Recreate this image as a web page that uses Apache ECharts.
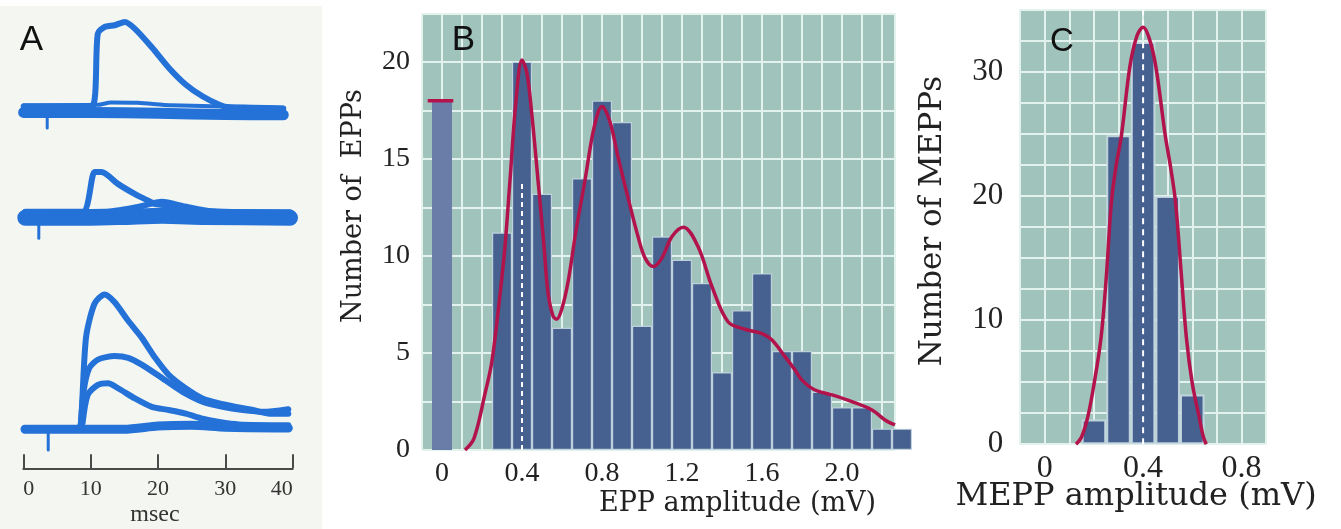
<!DOCTYPE html>
<html><head><meta charset="utf-8">
<script src="https://cdn.jsdelivr.net/npm/echarts@6/dist/echarts.min.js"></script>
<style>html,body{margin:0;padding:0;background:#fff}#c{width:1341px;height:529px}</style>
</head><body><div id="c"></div>
<script>
// ---------- Panel A: recorded traces (time in ms, amplitude in arbitrary units) ----------
const timeTicksA = [0, 10, 20, 30, 40];
const groupBaseA = [89.5, 62.6, 9.75];           // resting level of each trace group
// group 1 (top)
const g1Epp   = [[0.05,0.9],[5,0.9],[10.17,0.9],[11.06,19.1],[12.07,20.75],[13.57,21.2],[15.07,22.0],[16.58,20.3],[19.08,15.7],[21.59,10.6],[24.1,6.4],[26.6,3.45],[29.1,1.35],[30.6,0.7],[34,0.6],[38.6,0.4]];
const g1Rest  = [[0.05,-0.6],[10,-0.6],[20,-0.8],[30,-1.1],[38.6,-1.2]];
const g1Small = [[0.05,1.2],[11,1.3],[13,1.9],[17,1.8],[22,1.2],[38.6,0.6]];
const g1Artifact = [[3.55,0],[3.55,-4.5]];
// group 2 (middle)
const g2Epp   = [[0.3,1.5],[8.8,1.5],[10.6,11.4],[11.6,11.4],[14.1,8.4],[16.6,5.9],[18.6,4.2],[19.6,3.4],[21,3.2],[25,2.0],[30,1.4],[39.6,1.4]];
const g2Rest  = [[0.3,0],[10,0],[15,0.2],[20.6,0.5],[27,0.2],[39.6,0]];
const g2Bump  = [[0.3,1.4],[12,1.5],[17,2.7],[20.6,4.0],[24,2.8],[28,1.6],[39.6,1.2]];
const g2Artifact = [[2.3,0],[2.3,-5.1]];
// group 3 (bottom)
const g3Large = [[0.25,0.3],[8.2,0.3],[8.57,1.8],[9.31,22.9],[10.57,31.35],[12.07,33.7],[13.57,31.75],[15.58,27.1],[17.58,22.9],[19.58,17.85],[21.59,13.6],[24.1,10.25],[26.6,7.7],[29.1,6.45],[31.6,5.6],[34.1,4.8],[36.6,3.9],[39.35,3.9]];
const g3Mid   = [[8.57,1.8],[9.0,10],[9.8,15.3],[11.07,17.4],[13.57,18.3],[15.58,17.85],[17.58,16.15],[20.6,12.8],[23.6,9.4],[26.6,6.9],[29.6,5.6],[32.6,4.8],[35.6,4.35],[39.35,5.0]];
const g3Small = [[8.8,1.5],[9.56,8.6],[11.07,11.1],[12.57,11.5],[14.07,10.25],[16.58,7.7],[19.08,5.6],[21.59,4.8],[24.1,3.9],[26.6,2.65],[29.1,1.8],[32,1.2],[39.35,1.0]];
const g3Rest  = [[0.25,0],[15,0],[20,0.8],[25,1.0],[30,0.5],[39.35,0.3]];
const g3Artifact = [[3.7,0],[3.7,-5.2]];

// ---------- Panel B: EPP amplitude histogram ----------
const eppBinCenters = [0.3,0.4,0.5,0.6,0.7,0.8,0.9,1.0,1.1,1.2,1.3,1.4,1.5,1.6,1.7,1.8,1.9,2.0,2.1,2.2,2.3];
const eppCounts     = [11.2,20,13.2,6.3,14,18,16.9,6.4,11,9.8,8.6,4.0,7.2,9.1,5.1,5.1,3.0,2.2,2.2,1.1,1.1];
const eppFailures   = [0, 18];                    // failures bin (0 mV)
const eppFailurePredicted = [[-0.0715,18],[0.0565,18]];
const eppFit = [[0.115,0],[0.16,0.6],[0.215,2.9],[0.25,4.6],[0.29,8.0],[0.315,10.5],[0.34,13.9],[0.37,18.0],[0.4,20.1],[0.425,19.4],[0.45,17.2],[0.48,13.9],[0.51,10.5],[0.53,8.1],[0.555,6.9],[0.573,6.74],[0.6,7.3],[0.632,8.76],[0.67,11.3],[0.715,13.9],[0.76,16.6],[0.8,17.7],[0.84,16.9],[0.88,15.1],[0.93,13.0],[0.98,11.0],[1.015,9.9],[1.057,9.45],[1.1,9.9],[1.15,11.0],[1.207,11.48],[1.28,10.48],[1.35,8.42],[1.43,6.61],[1.515,6.22],[1.6,6.0],[1.65,5.67],[1.715,4.81],[1.765,4.12],[1.8,3.6],[1.865,3.09],[1.95,2.84],[2.05,2.49],[2.15,2.06],[2.215,1.55],[2.265,1.29]];
const eppMeanLine = [[0.4,0],[0.4,13.75]];
const eppTickValues = [0,0.4,0.8,1.2,1.6,2.0];
const eppTickLabels = ['0','0.4','0.8','1.2','1.6','2.0'];
const eppCountTicks = [0,5,10,15,20];

// ---------- Panel C: MEPP amplitude histogram ----------
const meppBinCenters = [0.2,0.3,0.4,0.5,0.6];
const meppCounts     = [2,24.9,32.4,20,4];
const meppFit = [[0.127,0],[0.15,0.6],[0.175,2.2],[0.2,4.8],[0.229,8.6],[0.25,13.4],[0.271,19.5],[0.29,22.4],[0.312,24.9],[0.346,30.4],[0.375,32.9],[0.4,33.6],[0.425,32.7],[0.452,30.4],[0.49,24.9],[0.512,22.3],[0.532,19.5],[0.555,13.8],[0.576,8.6],[0.6,4.9],[0.628,2.2],[0.645,0.6],[0.657,0]];
const meppMeanLine = [[0.4,0],[0.4,35]];
const meppTickValues = [0,0.4,0.8];
const meppTickLabels = ['0','0.4','0.8'];
const meppCountTicks = [0,10,20,30];

// ---------- styles ----------
const TEAL = '#a0c3bc', GRIDC = '#e4f2ee', BAR = '#46608f', BAR0 = '#6a7da8', RED = '#b3134b', BLUE = '#2472d8';
const SERIF = '"Liberation Serif", serif', SERIF_T = '"DejaVu Serif", serif', SANS = '"Liberation Sans", Arial, sans-serif';

function pick(vals, labels) {
  return v => { const i = vals.findIndex(t => Math.abs(t - v) < 1e-6); return i >= 0 ? labels[i] : ''; };
}
function shift(arr, base) { return arr.map(p => [p[0], p[1] + base]); }
function trace(data, base, w, extra) {
  return Object.assign({ type: 'line', xAxisIndex: 0, yAxisIndex: 0, data: shift(data, base), smooth: 0.25,
    symbol: 'none', silent: true, lineStyle: { color: BLUE, width: w, cap: 'round', join: 'round' }, z: 3 }, extra || {});
}

const chart = echarts.init(document.getElementById('c'), null, { renderer: 'canvas' });
const option = {
  animation: false,
  backgroundColor: '#ffffff',
  grid: [
    { left: 23.3, right: 1341 - 292.7, top: 0, bottom: 529 - 468.3, show: false },
    { left: 422, right: 1341 - 895, top: 13.3, bottom: 529 - 450, show: true, backgroundColor: TEAL, borderWidth: 0 },
    { left: 1020.2, right: 1341 - 1266, top: 9.8, bottom: 529 - 444.2, show: true, backgroundColor: TEAL, borderWidth: 0 }
  ],
  xAxis: [
    { gridIndex: 0, type: 'value', min: 0, max: 40, interval: 10,
      axisLine: { show: true, onZero: false, lineStyle: { color: '#4a4a4a', width: 2 } },
      axisTick: { show: true, inside: true, length: 14, lineStyle: { color: '#4a4a4a', width: 2 } },
      axisLabel: { margin: 10, fontFamily: SERIF, fontSize: 22, color: '#333', alignMinLabel: 'left', alignMaxLabel: 'right',
        formatter: v => timeTicksA.includes(v) ? String(v) : '' },
      splitLine: { show: false } },
    { gridIndex: 1, type: 'value', min: -0.1, max: 2.265, interval: 0.1,
      axisLine: { show: false }, axisTick: { show: false },
      axisLabel: { margin: 10, fontFamily: SERIF, fontSize: 28, color: '#222', formatter: pick(eppTickValues, eppTickLabels), showMaxLabel: false },
      splitLine: { show: true, lineStyle: { color: GRIDC, width: 2 } } },
    { gridIndex: 2, type: 'value', min: -0.1, max: 0.9, interval: 0.1,
      axisLine: { show: false }, axisTick: { show: false },
      axisLabel: { margin: 8, fontFamily: SERIF, fontSize: 32, color: '#222', formatter: pick(meppTickValues, meppTickLabels) },
      splitLine: { show: true, lineStyle: { color: GRIDC, width: 2 } } }
  ],
  yAxis: [
    { gridIndex: 0, type: 'value', min: 0, max: 117, show: false },
    { gridIndex: 1, type: 'value', min: 0, max: 22.5, interval: 2.5,
      axisLine: { show: false }, axisTick: { show: false },
      axisLabel: { margin: 12, fontFamily: SERIF, fontSize: 28, color: '#222', formatter: v => eppCountTicks.includes(v) ? String(v) : '' },
      splitLine: { show: true, lineStyle: { color: GRIDC, width: 2 } } },
    { gridIndex: 2, type: 'value', min: 0, max: 35, interval: 2.5,
      axisLine: { show: false }, axisTick: { show: false },
      axisLabel: { margin: 17, fontFamily: SERIF, fontSize: 31, color: '#222', formatter: v => meppCountTicks.includes(v) ? String(v) : '' },
      splitLine: { show: true, lineStyle: { color: GRIDC, width: 2 } } }
  ],
  graphic: [
    { type: 'rect', z: -10, shape: { x: 0, y: 6, width: 322, height: 523 }, style: { fill: '#f4f6f1' }, silent: true },
    { type: 'text', x: 31.5, y: 40, style: { text: 'A', fontFamily: SANS, fontSize: 35, fill: '#111', align: 'center', verticalAlign: 'middle' } },
    { type: 'text', x: 155, y: 515, style: { text: 'msec', fontFamily: SERIF, fontSize: 24, fill: '#333', align: 'center', verticalAlign: 'middle' } },
    { type: 'text', x: 463.3, y: 40, z: 10, style: { text: 'B', fontFamily: SANS, fontSize: 35, fill: '#111', align: 'center', verticalAlign: 'middle' } },
    { type: 'text', x: 737.5, y: 504, style: { text: 'EPP amplitude (mV)', fontFamily: SERIF_T, fontSize: 27, fill: '#222', align: 'center', verticalAlign: 'middle' } },
    { type: 'text', x: 354, y: 206, rotation: Math.PI / 2, style: { text: 'Number of  EPPs', fontFamily: SERIF_T, fontSize: 27, fill: '#222', align: 'center', verticalAlign: 'middle' } },
    { type: 'text', x: 1062, y: 42, z: 10, style: { text: 'C', fontFamily: SANS, fontSize: 33, fill: '#111', align: 'center', verticalAlign: 'middle' } },
    { type: 'text', x: 1136, y: 497, style: { text: 'MEPP amplitude (mV)', fontFamily: SERIF_T, fontSize: 32, fill: '#222', align: 'center', verticalAlign: 'middle' } },
    { type: 'text', x: 933, y: 221, rotation: Math.PI / 2, style: { text: 'Number of MEPPs', fontFamily: SERIF_T, fontSize: 31, fill: '#222', align: 'center', verticalAlign: 'middle' } }
  ],
  series: [
    // Panel A traces
    trace(g1Rest, groupBaseA[0], 11),
    trace(g1Small, groupBaseA[0], 4),
    trace(g1Epp, groupBaseA[0], 6),
    trace(g1Artifact, groupBaseA[0], 3, { smooth: false }),
    trace(g2Rest, groupBaseA[1], 16),
    trace(g2Bump, groupBaseA[1], 6),
    trace(g2Epp, groupBaseA[1], 6),
    trace(g2Artifact, groupBaseA[1], 3, { smooth: false }),
    trace(g3Rest, groupBaseA[2], 9),
    trace(g3Small, groupBaseA[2], 6),
    trace(g3Mid, groupBaseA[2], 6),
    trace(g3Large, groupBaseA[2], 6),
    trace(g3Artifact, groupBaseA[2], 3, { smooth: false }),
    // Panel B
    { type: 'bar', xAxisIndex: 1, yAxisIndex: 1, barWidth: 20, silent: true, z: 2,
      itemStyle: { color: BAR, borderColor: 'rgba(196,214,224,0.9)', borderWidth: 1.2 },
      data: [{ value: eppFailures, itemStyle: { color: BAR0, borderWidth: 0 } }].concat(eppBinCenters.map((c, i) => [c, eppCounts[i]])) },
    { type: 'line', xAxisIndex: 1, yAxisIndex: 1, data: eppMeanLine, symbol: 'none', silent: true, z: 4,
      lineStyle: { color: '#ffffff', width: 2, type: [5, 4] } },
    { type: 'line', xAxisIndex: 1, yAxisIndex: 1, data: eppFit, smooth: 0.35, symbol: 'none', silent: true, z: 5,
      lineStyle: { color: RED, width: 3.5 } },
    { type: 'line', xAxisIndex: 1, yAxisIndex: 1, data: eppFailurePredicted, symbol: 'none', silent: true, z: 5,
      lineStyle: { color: RED, width: 3.5 } },
    // Panel C
    { type: 'bar', xAxisIndex: 2, yAxisIndex: 2, barWidth: 24.5, silent: true, z: 2,
      itemStyle: { color: BAR, borderColor: 'rgba(200,218,226,0.9)', borderWidth: 2 },
      data: meppBinCenters.map((c, i) => [c, meppCounts[i]]) },
    { type: 'line', xAxisIndex: 2, yAxisIndex: 2, data: meppMeanLine, symbol: 'none', silent: true, z: 4,
      lineStyle: { color: '#ffffff', width: 2, type: [6, 5] } },
    { type: 'line', xAxisIndex: 2, yAxisIndex: 2, data: meppFit, smooth: 0.35, symbol: 'none', silent: true, z: 5,
      lineStyle: { color: RED, width: 3.5 } }
  ]
};
chart.setOption(option);
</script></body></html>
